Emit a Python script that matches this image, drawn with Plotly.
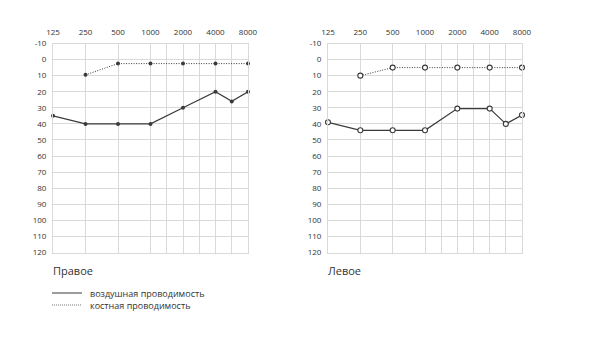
import math
import plotly.graph_objects as go

# ---- data ----
grid_freqs = [125, 250, 500, 1000, 1500, 2000, 3000, 4000, 6000, 8000]
label_freqs = [125, 250, 500, 1000, 2000, 4000, 8000]

right_air_freqs = [125, 250, 500, 1000, 2000, 4000, 6000, 8000]
right_air_db = [35, 40, 40, 40, 30, 20, 26, 20]
right_bone_freqs = [250, 500, 1000, 2000, 4000, 8000]
right_bone_db = [9.5, 2.5, 2.5, 2.5, 2.5, 2.5]

left_air_freqs = [125, 250, 500, 1000, 2000, 4000, 6000, 8000]
left_air_db = [39, 44, 44, 44, 30.5, 30.5, 40, 34.5]
left_bone_freqs = [250, 500, 1000, 2000, 4000, 8000]
left_bone_db = [10, 5, 5, 5, 5, 5]

y_ticks = list(range(-10, 121, 10))
y_ticktext = [str(v) for v in y_ticks]

titles = ["Правое", "Левое"]
legend_labels = ["воздушная проводимость", "костная проводимость"]


def octave_pos(f):
    # audiogram scale: octaves above 125 Hz, half-octave frequencies midway
    return round(2 * math.log2(f / 125)) / 2


W, H = 600, 339
FONT = "Open Sans"
LINE_C = "#3a3a3a"
GRID_C = "#d9d9d9"
TEXT_C = "#333333"

fig = go.Figure()

panels = [
    dict(air=(right_air_freqs, right_air_db), bone=(right_bone_freqs, right_bone_db),
         filled=True, x0=53, x1=248, title=titles[0]),
    dict(air=(left_air_freqs, left_air_db), bone=(left_bone_freqs, left_bone_db),
         filled=False, x0=328, x1=522, title=titles[1]),
]

y_top, y_bot = 43.5, 252.5

for i, p in enumerate(panels):
    xa = "x" if i == 0 else "x2"
    ya = "y" if i == 0 else "y2"
    mk = dict(size=4, color=LINE_C, line=dict(width=0)) if p["filled"] else \
        dict(size=5, color="white", line=dict(width=1.1, color=LINE_C))
    bf, bd = p["bone"]
    fig.add_trace(go.Scatter(x=[octave_pos(f) for f in bf], y=bd, mode="lines+markers",
                             line=dict(color=LINE_C, width=1, dash="1px,1.5px"),
                             marker=mk, xaxis=xa, yaxis=ya, showlegend=False,
                             cliponaxis=False))
    af, ad = p["air"]
    fig.add_trace(go.Scatter(x=[octave_pos(f) for f in af], y=ad, mode="lines+markers",
                             line=dict(color=LINE_C, width=1.2),
                             marker=mk, xaxis=xa, yaxis=ya, showlegend=False,
                             cliponaxis=False))
    dom_x = [p["x0"] / W, p["x1"] / W]
    dom_y = [1 - y_bot / H, 1 - y_top / H]
    tickvals = [octave_pos(f) for f in grid_freqs]
    ticktext = [str(f) if f in label_freqs else "" for f in grid_freqs]
    xkey = "xaxis" if i == 0 else "xaxis2"
    ykey = "yaxis" if i == 0 else "yaxis2"
    fig.update_layout(**{
        xkey: dict(domain=dom_x, range=[0, 6], side="top", tickvals=tickvals,
                   ticktext=ticktext, showgrid=True, gridcolor=GRID_C, gridwidth=1,
                   zeroline=False, showline=True, linecolor=GRID_C, mirror=True,
                   ticks="", ticklabelstandoff=4, automargin=False,
                   tickfont=dict(family=FONT, size=8, color=TEXT_C),
                   anchor=ya, fixedrange=True),
        ykey: dict(domain=dom_y, range=[120, -10], tickvals=y_ticks,
                   ticktext=y_ticktext,
                   showgrid=True, gridcolor=GRID_C, gridwidth=1, zeroline=False,
                   showline=True, linecolor=GRID_C, mirror=True, ticks="",
                   ticklabelstandoff=4, automargin=False,
                   tickfont=dict(family=FONT, size=8, color=TEXT_C),
                   anchor=xa, fixedrange=True),
    })
    fig.add_annotation(text=p["title"], xref="paper", yref="paper",
                       x=(p["x0"] - 2) / W, y=1 - 270.5 / H, xanchor="left", yanchor="middle",
                       showarrow=False, font=dict(family=FONT, size=11, color=TEXT_C))

# legend (manual)
for j, (lbl, dash) in enumerate(zip(legend_labels, ["solid", "1px,1px"])):
    yy = 1 - (293 + 12 * j) / H
    fig.add_shape(type="line", xref="paper", yref="paper", x0=52 / W, x1=82 / W,
                  y0=yy, y1=yy, line=dict(color=LINE_C if j == 0 else "#777777",
                                          width=1, dash=dash))
    fig.add_annotation(text=lbl, xref="paper", yref="paper", x=88 / W, y=yy,
                       xanchor="left", yanchor="middle", showarrow=False,
                       font=dict(family=FONT, size=9, color=TEXT_C))

fig.update_layout(width=W, height=H, margin=dict(l=0, r=0, t=0, b=0),
                  paper_bgcolor="white", plot_bgcolor="white",
                  font=dict(family=FONT, color=TEXT_C))

fig.write_html("out.html")
